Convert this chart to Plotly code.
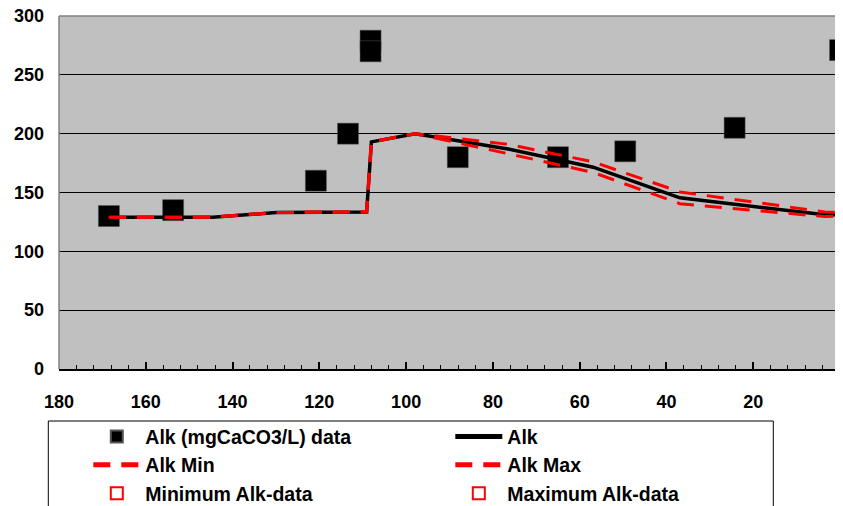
import plotly.graph_objects as go

# measured data points
data_x = [168.5, 153.7, 120.8, 113.4, 108.2, 108.2, 88.1, 65.0, 49.5, 24.3, 0.0]
data_y = [130, 135, 160, 200, 279, 270, 180, 180, 185, 205, 271]

# model curves
model_x = [168.5, 144.6, 129.9, 109.1, 108.0, 97.9, 76.5, 56.9, 36.9, 3.5, 0.0]
alk = [129, 129, 133, 133.5, 193, 200, 187, 171.5, 145.5, 131, 131]
alk_max = [129, 129, 133, 133.5, 193, 200, 191, 176, 150.5, 133.5, 133]
alk_min = [129, 129, 133, 133.5, 193, 200, 183, 167, 140.5, 129.5, 130]

x_ticks = [180, 160, 140, 120, 100, 80, 60, 40, 20, 0]
y_ticks = [0, 50, 100, 150, 200, 250, 300]

TICKFONT = dict(family="Liberation Sans, Arial, sans-serif", size=18, color="black", weight="bold")
LEGFONT = dict(family="Liberation Sans, Arial, sans-serif", size=19.5, color="black", weight="bold")

# figure is placed by the page 8px from the top-left corner
W, H = 835, 498
ML, MR, MT, MB = 51, 1, 8, 137
PW, PH = W - ML - MR, H - MT - MB


def px_to_paper_x(fx):
    return (fx - ML) / PW


def px_to_paper_y(fy):
    return (H - MB - fy) / PH


DASH = "17px,11px"

fig = go.Figure()
fig.add_trace(go.Scatter(x=data_x, y=data_y, mode="markers", name="Alk (mgCaCO3/L) data",
                         marker=dict(symbol="square", size=21, color="black",
                                     line=dict(color="#555555", width=0.5))))
fig.add_trace(go.Scatter(x=model_x, y=alk, mode="lines", name="Alk",
                         line=dict(color="black", width=3.5)))
fig.add_trace(go.Scatter(x=model_x, y=alk_min, mode="lines", name="Alk Min",
                         line=dict(color="#FF0000", width=3, dash=DASH)))
fig.add_trace(go.Scatter(x=model_x, y=alk_max, mode="lines", name="Alk Max",
                         line=dict(color="#FF0000", width=3, dash=DASH)))
fig.add_trace(go.Scatter(x=[None], y=[None], mode="markers", name="Minimum Alk-data",
                         marker=dict(symbol="square-open", size=10, color="#FF0000",
                                     line=dict(width=1.5))))
fig.add_trace(go.Scatter(x=[None], y=[None], mode="markers", name="Maximum Alk-data",
                         marker=dict(symbol="square-open", size=10, color="#FF0000",
                                     line=dict(width=1.5))))

fig.update_layout(
    width=W, height=H,
    margin=dict(l=ML, r=MR, t=MT, b=MB, autoexpand=False),
    paper_bgcolor="white",
    plot_bgcolor="#C0C0C0",
    font=TICKFONT,
    showlegend=True,
    legend=dict(
        orientation="h",
        xref="container", yref="container",
        x=80.3 / W, y=1 - 409.3 / H,
        xanchor="left", yanchor="top",
        bgcolor="rgba(0,0,0,0)", borderwidth=0,
        font=LEGFONT,
        itemwidth=47,
        entrywidth=300, entrywidthmode="pixels",
        itemsizing="constant",
        traceorder="normal",
    ),
    xaxis=dict(
        range=[180, -0.45], tickvals=x_ticks, ticktext=[str(v) for v in x_ticks],
        showgrid=False, zeroline=False,
        showline=True, linecolor="black", linewidth=1.5,
        ticks="inside", ticklen=7, tickcolor="black", tickwidth=1.5,
        minor=dict(dtick=4, ticks="inside", ticklen=4, tickcolor="black", tickwidth=1, showgrid=False),
        ticklabelstandoff=16,
        ticklabeloverflow="allow",
        tickfont=TICKFONT,
    ),
    yaxis=dict(
        range=[0, 300], tickvals=y_ticks, ticktext=[str(v) for v in y_ticks],
        showgrid=True, gridcolor="black", gridwidth=1,
        zeroline=False, showline=False, ticks="",
        ticklabelstandoff=14,
        ticklabeloverflow="allow",
        tickfont=TICKFONT,
    ),
    shapes=[
        # plot-area border
        dict(type="line", xref="paper", yref="paper", x0=0, x1=0, y0=0, y1=1,
             line=dict(color="#808080", width=1.5)),
        dict(type="line", xref="paper", yref="paper", x0=0, x1=1, y0=1, y1=1,
             line=dict(color="#808080", width=1.5)),
        dict(type="line", xref="paper", yref="paper", x0=1, x1=1, y0=0, y1=1,
             line=dict(color="black", width=1.5)),
        # legend frame
        dict(type="rect", xref="paper", yref="paper",
             x0=px_to_paper_x(40.3), x1=px_to_paper_x(765.3),
             y0=px_to_paper_y(520), y1=px_to_paper_y(413),
             line=dict(color="black", width=1), fillcolor="white", layer="below"),
    ],
)

fig.write_html("out.html")
